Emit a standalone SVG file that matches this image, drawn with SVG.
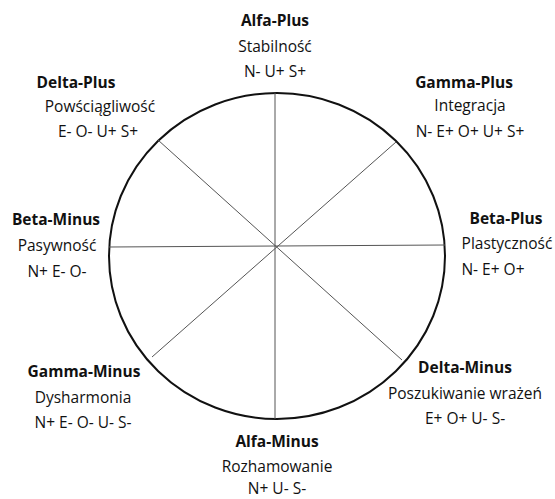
<svg xmlns="http://www.w3.org/2000/svg" width="555" height="499" viewBox="0 0 555 499">
<style>
text{font-family:"Open Sans","Liberation Sans",sans-serif;font-size:15.5px;fill:#111;text-anchor:middle}
.t{font-weight:bold}
.c{fill:none;stroke:#111;stroke-width:2}
.l{stroke:#555;stroke-width:1;fill:none}
</style>
<rect width="555" height="499" fill="#fff"/>
<g id="wheel">
<ellipse class="c" cx="277" cy="256" rx="168" ry="163"/>
</g>
<g id="connectors">
<line class="l" x1="275" y1="93" x2="275" y2="419"/>
<line class="l" x1="109" y1="247" x2="445" y2="245"/>
<line class="l" x1="158" y1="140" x2="402" y2="360"/>
<line class="l" x1="396" y1="142" x2="152" y2="357"/>
</g>
<g id="alfa-plus">
<text class="t" x="275" y="26">Alfa-Plus</text>
<text x="275" y="52">Stabilność</text>
<text x="275" y="77">N- U+ S+</text>
</g>
<g id="delta-plus">
<text class="t" x="76" y="88">Delta-Plus</text>
<text x="100" y="112">Powściągliwość</text>
<text x="98" y="137">E- O- U+ S+</text>
</g>
<g id="gamma-plus">
<text class="t" x="464" y="88">Gamma-Plus</text>
<text x="470" y="111">Integracja</text>
<text x="470" y="137">N- E+ O+ U+ S+</text>
</g>
<g id="beta-minus">
<text class="t" x="56" y="225">Beta-Minus</text>
<text x="57" y="251">Pasywność</text>
<text x="57" y="277">N+ E- O-</text>
</g>
<g id="beta-plus">
<text class="t" x="506" y="224">Beta-Plus</text>
<text x="507" y="249">Plastyczność</text>
<text x="493" y="275">N- E+ O+</text>
</g>
<g id="gamma-minus">
<text class="t" x="84" y="377">Gamma-Minus</text>
<text x="83" y="403">Dysharmonia</text>
<text x="83" y="428">N+ E- O- U- S-</text>
</g>
<g id="delta-minus">
<text class="t" x="465" y="373">Delta-Minus</text>
<text x="465" y="399">Poszukiwanie wrażeń</text>
<text x="465" y="424">E+ O+ U- S-</text>
</g>
<g id="alfa-minus">
<text class="t" x="277" y="447">Alfa-Minus</text>
<text x="277" y="472">Rozhamowanie</text>
<text x="277" y="494">N+ U- S-</text>
</g>
</svg>
